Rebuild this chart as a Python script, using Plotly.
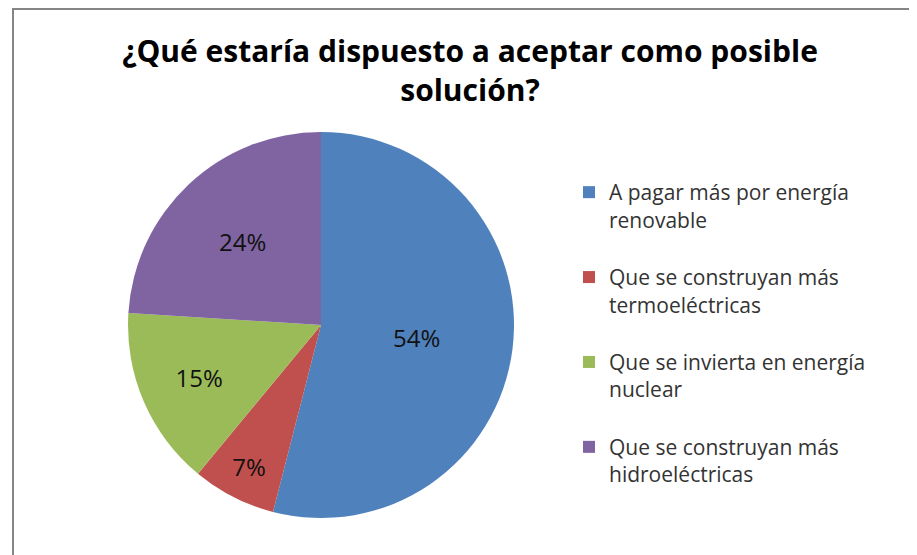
import plotly.graph_objects as go

categories = [
    "A pagar más por energía<br>renovable<br> ",
    "Que se construyan más<br>termoeléctricas<br> ",
    "Que se invierta en energía<br>nuclear<br> ",
    "Que se construyan más<br>hidroeléctricas<br> ",
]
values = [54, 7, 15, 24]
colors = ["#4F81BD", "#C0504D", "#9BBB59", "#8064A2"]
title_text = "¿Qué estaría dispuesto a aceptar como posible<br>solución?"

W, H = 917, 555
OFF = 8  # page body margin offset

fig = go.Figure()
fig.add_trace(go.Pie(
    labels=categories,
    values=values,
    sort=False,
    direction="clockwise",
    rotation=0,
    marker=dict(colors=colors, line=dict(width=0)),
    texttemplate="%{percent:.0%}",
    textposition="inside",
    insidetextorientation="horizontal",
    textfont=dict(family="Open Sans", size=24, color="#111111"),
    domain=dict(x=[(128 - OFF) / W, (514 - OFF) / W],
                y=[1 - (518 - OFF) / H, 1 - (132 - OFF) / H]),
    hoverinfo="label+percent",
))

fig.update_layout(
    width=W, height=H,
    margin=dict(l=0, r=0, t=0, b=0),
    paper_bgcolor="white",
    plot_bgcolor="white",
    title=dict(
        text=title_text,
        x=462 / W, xanchor="center", xref="paper",
        y=1 - 53.5 / H, yanchor="middle", yref="container",
        font=dict(family="Open Sans", size=30, color="#000000", weight="bold"),
    ),
    legend=dict(
        x=561 / W, xanchor="left",
        y=1 - 164 / H, yanchor="top",
        valign="top",
        font=dict(family="Open Sans", size=21, color="#333333"),
        bgcolor="rgba(0,0,0,0)",
    ),
    showlegend=True,
    shapes=[dict(
        type="rect", xref="paper", yref="paper",
        x0=5 / W, x1=1.05, y0=-0.05, y1=1 - 1 / H,
        line=dict(color="#858585", width=2),
        fillcolor="rgba(0,0,0,0)",
        layer="above",
    )],
)

fig.write_html("out.html")
